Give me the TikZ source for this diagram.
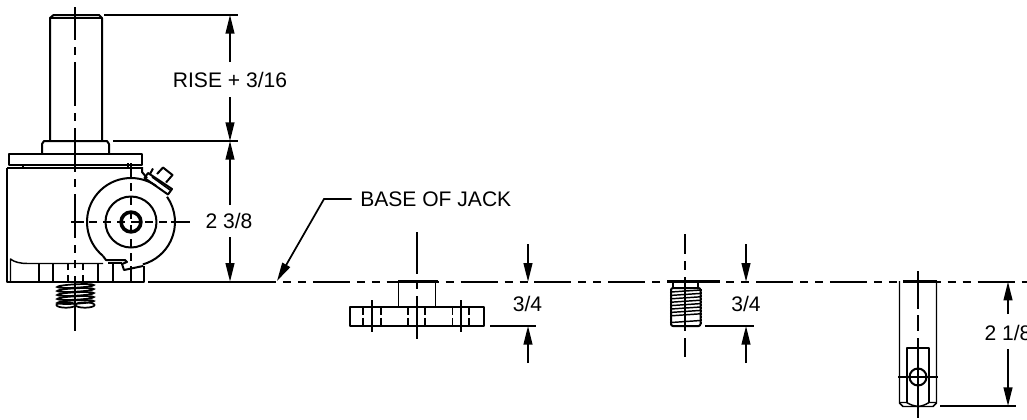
\documentclass[tikz,border=0pt]{standalone}
\usepackage{fontspec}
\setmainfont{Liberation Sans}
\usetikzlibrary{arrows.meta}
\tikzset{
  x=0.75pt,y=0.75pt,
  outline/.style={line width=1.5pt,black,line join=round},
  thin outline/.style={line width=1.1pt,black,line join=round},
  center/.style={line width=1.3pt,black},
  base dash/.style={center,line width=1.4pt,dash pattern=on 27.7pt off 5.25pt on 6pt off 5.25pt on 6pt off 5.2pt},
  axis dash/.style={center,dash pattern=on 33pt off 5.25pt on 6pt off 5.25pt},
  short dash/.style={center,dash pattern=on 6pt off 4.5pt},
  dimline/.style={line width=1.3pt,black},
  dimarrow/.style={dimline,-{Triangle[length=14pt,width=6.6pt]}},
  extline/.style={line width=1.45pt,black},
  lbl/.style={font=\fontsize{15.8pt}{18pt}\selectfont,inner sep=0pt,text=black}
}
\begin{document}
\begin{tikzpicture}
\useasboundingbox (0,0) rectangle (1027,-419);
% ---- Jack: shaft, collar, cap
\draw[outline] (50,-141) -- (50,-18) -- (53.5,-15) -- (99,-15) -- (102,-18) -- (102,-141);
\draw[thin outline] (50,-18) -- (102,-18);
\draw[outline] (42,-154) -- (42,-144) -- (44,-141) -- (107,-141) -- (109,-144) -- (109,-154);
\draw[outline] (9,-165) -- (9,-154) -- (142,-154) -- (142,-165) -- cycle;
% body
\draw[outline] (7,-167.5) -- (142,-167.5);
\draw[outline] (7,-167.5) -- (7,-282) -- (144,-282) -- (144,-266);
\draw[thin outline] (10.5,-282) -- (10.5,-259) .. controls (14,-262) and (20,-263.5) .. (28,-263.5) -- (103,-263.5);
\draw[outline] (23,-165) -- (23,-168) (128,-163) -- (128,-168);
\foreach \tx in {39,53,68,83,98,113} \draw[outline] (\tx,-263.5) -- (\tx,-282);
\fill[white] (66,-270) rectangle (85,-275);
% bore circles and cam
\draw[outline] (131,-222) ++(55:44) arc[start angle=55,end angle=230.5,radius=44];
\draw[outline] (131,-222) ++(35:44) arc[start angle=35,end angle=-74.4,radius=44];
\draw[outline] (131,-222) circle[radius=25.5];
\draw[line width=2.7pt] (131,-222) circle[radius=9.9];
% notch
\draw[outline] (103,-256) -- (106,-260) -- (125,-260) -- (127,-262) -- (122,-264) -- (124,-270) -- (143,-266);
\draw[thin outline] (108,-263) -- (122,-263);
\draw[outline] (142,-167) -- (142,-172) -- (147,-178);
% set screw
\draw[outline] (148,-173) -- (172,-189) -- (168,-194.5) -- (144.5,-178) -- cycle;
\draw[outline] (153,-168.5) -- (150,-174);
\draw[outline] (157,-174) -- (163,-167.5) -- (172.5,-175) -- (166,-182.5);
\draw[thin outline] (152,-177) -- (170,-190);
% spring
\foreach \sy in {286,290,294,298,302}
  \draw[line width=1.3pt,rotate around={3:(75.5,-\sy)}] (75.5,-\sy) ellipse[x radius=18.3,y radius=1.7];
\draw[line width=1.3pt] (66,-305) ellipse[x radius=9.5,y radius=2.7];
\draw[line width=1.3pt] (85,-305) ellipse[x radius=9.5,y radius=2.7];
% jack centre lines
\draw[axis dash,dash phase=8.25pt] (75,-7) -- (75,-268);
\draw[center] (75,-276) -- (75,-331);
\draw[center] (71,-222) -- (84,-222);
\draw[short dash] (89,-222) -- (169,-222);
\draw[center] (171,-222) -- (190,-222);
\draw[center] (131,-163) -- (131,-177);
\draw[short dash] (131,-183) -- (131,-262);
\draw[center] (131,-266) -- (131,-282);
% ---- baseline
\draw[outline] (148,-281.7) -- (276,-281.7);
\draw[base dash] (239,-281.7) -- (1027,-281.7);
% ---- Dimensions jack
\coordinate (topext) at (230,-15);
\coordinate (midext) at (230,-141);
\coordinate (baseA) at (230,-281.7);
\draw[extline] (104,-15) -- (238,-15);
\draw[extline] (113,-141) -- (238,-141);
\node[lbl] (rise) at (230,-80) {RISE + 3/16};
\node[lbl] (rise238) at (229,-220.5) {2 3/8};
\coordinate (riseA) at (230,-62);
\coordinate (riseB) at (230,-97);
\coordinate (lowA) at (230,-205);
\coordinate (lowB) at (230,-237);
\draw[dimarrow] (riseA) -- (topext);
\draw[dimarrow] (riseB) -- (midext);
\draw[dimarrow] (lowA) -- (midext);
\draw[dimarrow] (lowB) -- (baseA);
% ---- Leader
\node[lbl,anchor=west] (jackbase) at (360,-199) {BASE OF JACK};
\coordinate (ldA) at (351.5,-199);
\coordinate (ldB) at (324,-199);
\coordinate (ldC) at (277,-281);
\draw[dimarrow] (ldA) -- (ldB) -- (ldC);
% ---- Part 2 flange
\draw[line width=1.9pt] (398,-281.7) -- (438,-281.7);
\draw[thin outline] (398.5,-281) -- (398.5,-307) (435.5,-281) -- (435.5,-307);
\draw[outline] (350,-307) rectangle (484,-326);
\foreach \hx in {363,381,408,425,452.5,469}
  \draw[line width=1.1pt,dash pattern=on 6.3pt off 1.8pt on 6.3pt] (\hx,-307) -- (\hx,-326);
\draw[center] (417,-232) -- (417,-274);
\draw[center] (417,-282) -- (417,-289);
\draw[center] (417,-296) -- (417,-339);
\draw[center] (372,-300) -- (372,-332);
\draw[center] (461,-300) -- (461,-332);
\coordinate (flA) at (528,-244);
\coordinate (flB) at (528,-281.7);
\coordinate (flC) at (528,-363);
\coordinate (flD) at (528,-326);
\draw[extline] (490,-326) -- (536,-326);
\draw[dimarrow] (flA) -- (flB);
\draw[dimarrow] (flC) -- (flD);
\node[lbl] (fl34) at (527.5,-304) {3/4};
% ---- Part 3 threaded
\draw[line width=1.9pt] (667,-281.7) -- (720,-281.7);
\draw[thin outline] (673,-282) -- (673,-288) (698,-282) -- (698,-288);
\draw[outline,rounded corners=1.5pt] (671,-288) rectangle (700.5,-326);
\foreach \ty in {291,294.4,297.8,301.2,304.6,308,311.4,314.8,321.5}
  \draw[line width=1.1pt] (671,-\ty-1) -- (700.5,-\ty+1);
\foreach \ty in {290,293,296,299,302,305,308,311,314,317,320,323}{
  \draw[line width=0.8pt] (669.8,-\ty) -- (671,-\ty);
  \draw[line width=0.8pt] (700.5,-\ty) -- (701.7,-\ty);
}
\draw[center] (685,-234) -- (685,-254);
\draw[center] (685,-261) -- (685,-270);
\draw[center] (685,-277) -- (685,-331);
\draw[center] (685,-338) -- (685,-357);
\coordinate (thA) at (746,-244);
\coordinate (thB) at (746,-281.7);
\coordinate (thC) at (746,-363);
\coordinate (thD) at (746,-326);
\draw[extline] (705,-326) -- (754,-326);
\draw[dimarrow] (thA) -- (thB);
\draw[dimarrow] (thC) -- (thD);
\node[lbl] (th34) at (746,-304) {3/4};
% ---- Part 4 slotted
\draw[line width=1.9pt] (903,-281.7) -- (937,-281.7);
\draw[thin outline] (899.5,-281) -- (899.5,-403) -- (903,-406.5) -- (933,-406.5) -- (936.5,-403) -- (936.5,-281);
\draw[outline] (906.5,-403) -- (906.5,-347.5) -- (929,-347.5) -- (929,-403);
\draw[thin outline] (899.5,-402.5) -- (906.5,-402.5) .. controls (911,-405) and (914,-406) .. (918,-406.5) .. controls (922,-406) and (925,-405) .. (929,-402.5) -- (936.5,-402.5);
\draw[outline] (918,-377) circle[radius=8.5];
\draw[center] (898,-377) -- (938,-377);
\draw[center] (918,-271) -- (918,-309);
\draw[center] (918,-315) -- (918,-331);
\draw[center] (918,-338) -- (918,-418);
\coordinate (slA) at (1008,-314);
\coordinate (slB) at (1008,-281.7);
\coordinate (slC) at (1008,-349);
\coordinate (slD) at (1008,-406);
\draw[extline] (940,-406) -- (1016,-406);
\draw[dimarrow] (slA) -- (slB);
\draw[dimarrow] (slC) -- (slD);
\node[lbl] (sl218) at (1008,-333) {2 1/8};
\end{tikzpicture}
\end{document}
